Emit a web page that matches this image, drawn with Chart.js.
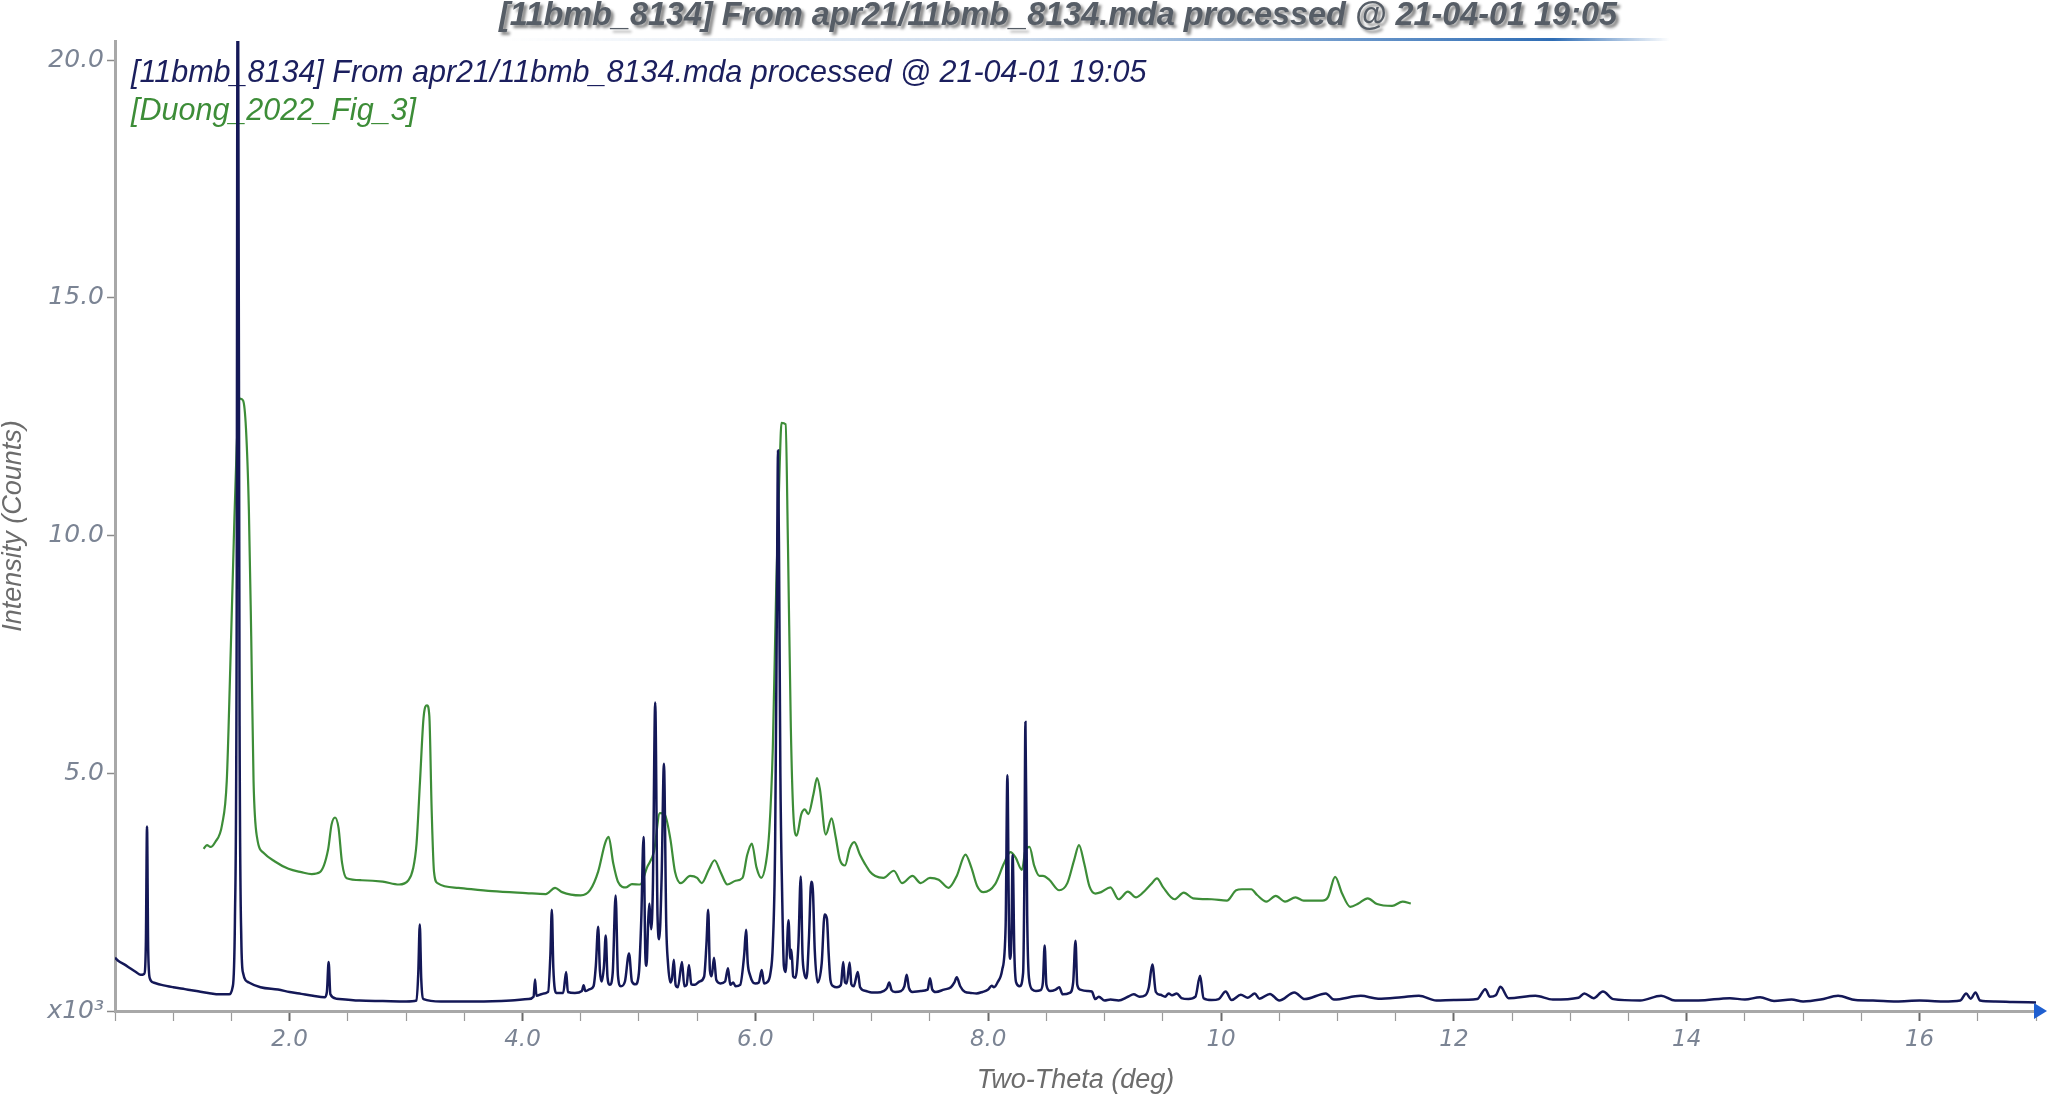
<!DOCTYPE html>
<html><head><meta charset="utf-8">
<script src="https://cdn.jsdelivr.net/npm/chart.js@4.4.1/dist/chart.umd.min.js"></script>
<style>html,body{margin:0;padding:0;background:#fff;}#wrap{width:2050px;height:1097px;position:relative;}</style>
</head><body><div id="wrap"><canvas id="c" width="2050" height="1097"></canvas></div>
<script>
const titleText = "[11bmb_8134] From apr21/11bmb_8134.mda processed @ 21-04-01 19:05";
const seriesNames = ["[11bmb_8134] From apr21/11bmb_8134.mda processed @ 21-04-01 19:05", "[Duong_2022_Fig_3]"];
const xAxisTitle = "Two-Theta (deg)";
const yAxisTitle = "Intensity (Counts)";
const xTickValues = [2, 4, 6, 8, 10, 12, 14, 16];
const xTickLabels = ["2.0", "4.0", "6.0", "8.0", "10", "12", "14", "16"];
const yTickValues = [0, 5, 10, 15, 20];
const yTickLabels = ["x10³", "5.0", "10.0", "15.0", "20.0"];

// 11bmb_8134 pattern (Two-Theta deg, counts x10^3)
const navyX = [0.50,0.53,0.58,0.63,0.68,0.72,0.75,0.765,0.775,0.785,0.80,0.83,0.90,1.00,1.10,1.20,1.30,1.40,1.48,1.51,1.53,1.545,1.552,1.558,1.57,1.585,1.60,1.65,1.75,1.90,2.00,2.10,2.20,2.30,2.32,2.335,2.35,2.40,2.60,2.80,3.00,3.09,3.105,3.118,3.13,3.15,3.30,3.60,3.90,4.05,4.095,4.108,4.12,4.17,4.22,4.24,4.252,4.265,4.29,4.35,4.375,4.39,4.45,4.51,4.525,4.54,4.58,4.61,4.63,4.65,4.665,4.68,4.70,4.715,4.73,4.75,4.775,4.80,4.82,4.845,4.88,4.915,4.94,4.97,5.00,5.02,5.04,5.055,5.065,5.08,5.09,5.105,5.12,5.14,5.16,5.175,5.195,5.215,5.235,5.25,5.27,5.285,5.30,5.315,5.335,5.37,5.39,5.41,5.43,5.45,5.48,5.52,5.56,5.58,5.595,5.61,5.625,5.645,5.665,5.70,5.74,5.765,5.785,5.81,5.83,5.87,5.905,5.92,5.935,5.955,5.98,6.00,6.03,6.055,6.075,6.10,6.13,6.15,6.17,6.185,6.195,6.205,6.215,6.23,6.245,6.26,6.285,6.30,6.31,6.325,6.345,6.37,6.39,6.405,6.42,6.44,6.46,6.48,6.495,6.51,6.535,6.57,6.595,6.615,6.63,6.645,6.67,6.70,6.735,6.755,6.77,6.785,6.81,6.825,6.845,6.88,6.90,6.95,7.00,7.05,7.10,7.13,7.15,7.17,7.20,7.25,7.28,7.30,7.32,7.35,7.42,7.48,7.50,7.52,7.55,7.62,7.68,7.71,7.73,7.76,7.80,7.85,7.90,7.95,8.00,8.03,8.05,8.08,8.12,8.15,8.165,8.18,8.19,8.20,8.21,8.225,8.24,8.27,8.30,8.31,8.32,8.335,8.35,8.38,8.41,8.45,8.47,8.485,8.50,8.53,8.58,8.61,8.64,8.70,8.73,8.75,8.765,8.79,8.85,8.89,8.92,8.95,9.00,9.05,9.12,9.20,9.25,9.30,9.35,9.38,9.41,9.44,9.48,9.52,9.55,9.58,9.62,9.66,9.72,9.78,9.82,9.85,9.92,9.98,10.04,10.09,10.17,10.23,10.29,10.33,10.42,10.50,10.63,10.72,10.90,10.97,11.20,11.35,11.55,11.70,11.85,12.00,12.20,12.27,12.31,12.36,12.40,12.47,12.70,12.85,13.07,13.12,13.20,13.28,13.37,13.60,13.78,13.90,14.10,14.37,14.50,14.63,14.75,14.90,15.00,15.15,15.30,15.45,15.60,15.80,16.00,16.20,16.35,16.40,16.44,16.48,16.52,16.65,16.80,17.00];
const navyY = [1.12,1.05,0.98,0.90,0.82,0.76,0.78,1.40,3.88,1.30,0.68,0.60,0.55,0.50,0.46,0.42,0.38,0.35,0.35,0.50,1.90,8.00,20.60,20.60,6.00,1.50,0.80,0.60,0.50,0.45,0.40,0.36,0.32,0.29,0.40,1.03,0.35,0.26,0.22,0.21,0.20,0.22,0.80,1.82,0.70,0.25,0.20,0.20,0.22,0.25,0.30,0.66,0.32,0.36,0.40,1.20,2.13,0.90,0.38,0.38,0.82,0.40,0.38,0.42,0.54,0.42,0.46,0.52,0.95,1.77,0.85,0.62,0.95,1.59,0.72,0.55,0.80,2.43,0.75,0.52,0.62,1.21,0.62,0.56,0.80,1.90,3.66,1.20,0.95,1.90,2.26,1.72,2.60,6.49,2.00,1.51,2.80,5.20,1.80,1.00,0.60,0.70,1.08,0.55,0.50,1.03,0.52,0.55,0.97,0.56,0.55,0.62,0.72,1.40,2.13,0.85,0.73,1.12,0.65,0.58,0.62,0.90,0.55,0.60,0.52,0.55,1.20,1.71,1.00,0.75,0.60,0.58,0.60,0.86,0.58,0.60,0.80,1.38,3.50,8.50,11.79,9.00,5.00,2.50,0.95,0.82,1.91,1.10,1.29,0.73,0.70,1.40,2.83,1.20,0.80,0.69,1.50,2.72,2.50,1.30,0.60,1.00,2.03,1.94,1.20,0.65,0.52,0.50,0.55,1.03,0.60,0.58,1.02,0.56,0.52,0.82,0.50,0.42,0.39,0.39,0.42,0.48,0.60,0.44,0.40,0.42,0.52,0.76,0.48,0.40,0.42,0.45,0.69,0.45,0.40,0.45,0.50,0.60,0.71,0.52,0.40,0.38,0.37,0.40,0.45,0.53,0.50,0.60,0.86,1.80,4.96,1.50,1.10,1.60,3.28,1.20,0.60,0.52,0.80,2.50,6.08,2.00,0.70,0.45,0.42,0.44,0.60,1.38,0.55,0.42,0.45,0.50,0.35,0.38,0.60,1.48,0.55,0.45,0.42,0.41,0.25,0.30,0.22,0.24,0.22,0.30,0.35,0.30,0.33,0.50,0.98,0.40,0.34,0.30,0.37,0.33,0.37,0.27,0.25,0.30,0.74,0.27,0.23,0.25,0.41,0.23,0.34,0.28,0.37,0.26,0.36,0.22,0.39,0.25,0.37,0.24,0.32,0.26,0.29,0.32,0.22,0.23,0.25,0.46,0.30,0.33,0.51,0.27,0.32,0.24,0.28,0.37,0.27,0.41,0.25,0.22,0.32,0.22,0.22,0.27,0.24,0.29,0.21,0.24,0.20,0.24,0.32,0.23,0.22,0.20,0.22,0.20,0.22,0.37,0.26,0.39,0.22,0.20,0.19,0.18];

// Duong_2022_Fig_3 pattern
const greenX = [1.26,1.29,1.32,1.36,1.42,1.46,1.49,1.52,1.545,1.575,1.60,1.625,1.65,1.67,1.69,1.72,1.78,1.87,1.99,2.10,2.19,2.26,2.33,2.36,2.39,2.42,2.45,2.49,2.62,2.80,2.94,3.02,3.06,3.09,3.12,3.15,3.18,3.20,3.22,3.24,3.27,3.45,3.74,4.03,4.20,4.28,4.34,4.50,4.58,4.65,4.71,4.74,4.78,4.82,4.89,4.94,5.01,5.07,5.13,5.18,5.22,5.27,5.31,5.36,5.44,5.50,5.54,5.60,5.65,5.70,5.76,5.83,5.89,5.93,5.97,6.01,6.05,6.09,6.12,6.15,6.18,6.21,6.225,6.26,6.28,6.305,6.325,6.355,6.395,6.425,6.455,6.50,6.53,6.555,6.605,6.655,6.69,6.725,6.77,6.81,6.85,6.90,6.94,6.985,7.03,7.10,7.19,7.26,7.35,7.42,7.50,7.575,7.66,7.73,7.805,7.855,7.905,7.96,8.06,8.135,8.19,8.235,8.29,8.32,8.355,8.395,8.44,8.47,8.525,8.61,8.68,8.74,8.78,8.825,8.87,8.92,8.97,9.05,9.12,9.20,9.27,9.35,9.40,9.45,9.50,9.60,9.68,9.76,9.92,10.05,10.13,10.18,10.26,10.31,10.39,10.47,10.55,10.64,10.71,10.87,10.92,10.98,11.04,11.11,11.18,11.26,11.34,11.47,11.56,11.63];
const greenY = [3.41,3.49,3.45,3.55,3.92,4.84,7.22,9.87,11.85,12.88,12.84,12.25,10.53,7.88,4.84,3.65,3.32,3.15,2.99,2.92,2.88,2.92,3.39,3.92,4.07,3.85,3.12,2.79,2.75,2.72,2.66,2.75,2.99,3.52,4.84,6.16,6.43,6.20,4.22,2.93,2.69,2.59,2.52,2.48,2.46,2.59,2.50,2.43,2.54,2.93,3.53,3.66,3.10,2.72,2.60,2.67,2.66,3.02,3.36,4.16,4.14,3.62,2.93,2.69,2.84,2.80,2.69,2.97,3.17,2.93,2.66,2.74,2.80,3.28,3.52,3.02,2.80,3.10,3.79,5.52,8.97,11.55,12.37,12.34,9.83,5.95,4.22,3.69,4.14,4.24,4.14,4.57,4.90,4.66,3.71,4.05,3.66,3.19,3.06,3.41,3.55,3.28,3.10,2.93,2.84,2.80,2.95,2.69,2.84,2.69,2.80,2.76,2.59,2.84,3.29,3.02,2.63,2.50,2.67,3.10,3.34,3.23,2.97,3.38,3.45,3.06,2.84,2.84,2.76,2.54,2.69,3.19,3.49,3.10,2.62,2.47,2.50,2.60,2.35,2.51,2.39,2.54,2.67,2.79,2.61,2.35,2.49,2.37,2.35,2.32,2.54,2.56,2.56,2.44,2.30,2.42,2.30,2.39,2.32,2.32,2.40,2.82,2.47,2.19,2.26,2.37,2.25,2.21,2.30,2.26];

const LABEL_FONT = "'Liberation Sans', Arial, sans-serif";
const TICK_FONT = "'DejaVu Sans', sans-serif";

function fitSize(ctx, text, style, family, target) {
  ctx.font = style + " 100px " + family;
  return 100 * target / ctx.measureText(text).width;
}

const decor = {
  id: 'decor',
  beforeDatasetsDraw(chart) {
    const ctx = chart.ctx;
    ctx.save();
    const size = fitSize(ctx, seriesNames[0], "italic", LABEL_FONT, 1016);
    ctx.font = "italic " + size.toFixed(2) + "px " + LABEL_FONT;
    ctx.textAlign = "left";
    ctx.textBaseline = "middle";
    ctx.fillStyle = "#1b1f5e";
    ctx.fillText(seriesNames[0], 131, 73);
    ctx.fillStyle = "#3d8d38";
    ctx.fillText(seriesNames[1], 131, 111);
    ctx.restore();
  },
  afterDraw(chart) {
    const ctx = chart.ctx;
    const area = chart.chartArea;
    ctx.save();
    const g = ctx.createLinearGradient(500, 0, 1670, 0);
    g.addColorStop(0, "rgba(47,109,181,0)");
    g.addColorStop(0.45, "rgba(47,109,181,0.25)");
    g.addColorStop(0.9, "rgba(47,109,181,1)");
    g.addColorStop(1, "rgba(47,109,181,0)");
    ctx.fillStyle = g;
    ctx.fillRect(500, 38, 1170, 3);
    const ts = fitSize(ctx, titleText, "italic bold", LABEL_FONT, 1118);
    ctx.font = "italic bold " + ts.toFixed(2) + "px " + LABEL_FONT;
    ctx.textAlign = "center";
    ctx.textBaseline = "middle";
    ctx.shadowColor = "rgba(40,40,40,0.55)";
    ctx.shadowOffsetX = 3;
    ctx.shadowOffsetY = 3;
    ctx.shadowBlur = 3;
    ctx.fillStyle = "#565d66";
    ctx.fillText(titleText, 1058, 16);
    ctx.shadowColor = "transparent";
    const y0 = chart.scales.y.getPixelForValue(0);
    ctx.fillStyle = "#1f5fd0";
    ctx.beginPath();
    ctx.moveTo(area.right - 2, y0 - 8);
    ctx.lineTo(area.right + 11, y0);
    ctx.lineTo(area.right - 2, y0 + 8);
    ctx.closePath();
    ctx.fill();
    ctx.restore();
  }
};

new Chart(document.getElementById('c'), {
  type: 'line',
  data: {
    datasets: [
      { label: seriesNames[0], data: navyX.map((x, i) => ({ x: x, y: navyY[i] })),
        borderColor: '#141857', borderWidth: 2.5, pointRadius: 0, cubicInterpolationMode: 'monotone', fill: false },
      { label: seriesNames[1], data: greenX.map((x, i) => ({ x: x, y: greenY[i] })),
        borderColor: '#3d8d38', borderWidth: 2.2, pointRadius: 0, cubicInterpolationMode: 'monotone', fill: false }
    ]
  },
  options: {
    responsive: false, animation: false, devicePixelRatio: 1,
    layout: { padding: { top: 41, right: 14, left: 0, bottom: 0 } },
    plugins: { legend: { display: false }, tooltip: { enabled: false }, title: { display: false } },
    scales: {
      x: {
        type: 'linear', min: 0.5, max: 17,
        ticks: {
          stepSize: 0.5, autoSkip: false, maxRotation: 0, includeBounds: false,
          callback: (v) => { const k = xTickValues.findIndex(t => Math.abs(t - v) < 1e-6); return k >= 0 ? xTickLabels[k] : ''; },
          font: { family: TICK_FONT, style: 'italic', size: 23 }, color: '#7b8494', padding: 5
        },
        grid: {
          drawOnChartArea: false, drawTicks: true, tickLength: 10,
          tickColor: (c) => (c.tick && xTickValues.some(t => Math.abs(t - c.tick.value) < 1e-6)) ? '#6a6a6a' : '#9a9a9a',
          tickWidth: (c) => (c.tick && xTickValues.some(t => Math.abs(t - c.tick.value) < 1e-6)) ? 2 : 1.2
        },
        border: { display: true, color: '#a8a8a8', width: 3 },
        title: { display: true, text: xAxisTitle, color: '#6c6c6c',
          font: { family: LABEL_FONT, style: 'italic', size: 27, lineHeight: 1 }, padding: { top: 0, bottom: 3 } },
        afterFit: (s) => { s.height = 86; }
      },
      y: {
        min: 0, max: 20.4,
        afterBuildTicks: (s) => { s.ticks = yTickValues.map(v => ({ value: v })); },
        ticks: {
          callback: (v) => { const k = yTickValues.indexOf(v); return k >= 0 ? yTickLabels[k] : ''; },
          font: { family: TICK_FONT, style: 'italic', size: 25 }, color: '#7b8494', padding: 3
        },
        grid: { drawOnChartArea: false, drawTicks: true, tickLength: 8, tickColor: '#8a8a8a', tickWidth: 1.5 },
        border: { display: true, color: '#a8a8a8', width: 3 },
        title: { display: true, text: yAxisTitle, color: '#6c6c6c',
          font: { family: LABEL_FONT, style: 'italic', size: 27, lineHeight: 1 }, padding: { top: 0, bottom: 0 } },
        afterFit: (s) => { s.width = 115; }
      }
    }
  },
  plugins: [decor]
});
</script>
</body></html>
